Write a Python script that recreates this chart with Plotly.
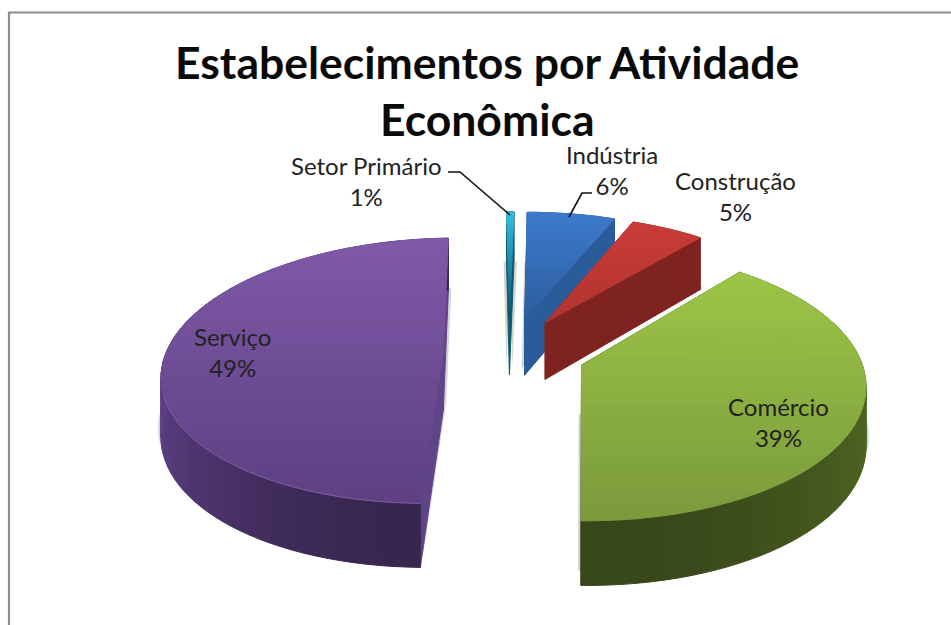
import math
import plotly.graph_objects as go

# ---- data ----
categories = ["Indústria", "Construção", "Comércio", "Serviço", "Setor Primário"]
values = [6, 5, 39, 49, 1]              # percentages printed on the labels
shares = [6.0, 5.0, 39.3, 49.2, 0.5]    # unrounded shares
title_lines = ["Estabelecimentos por Atividade", "Econômica"]

# ---- style / projection settings ----
explode = [0.27, 0.27, 0.285, 0.23, 0.27]
nudge_x = [0.01, 0.0, 0.0, 0.0, 0.008]
top_colors = [("#3d7bcc", "#2b5f9f"), ("#cb3c38", "#b03430"), ("#9dc547", "#7a9a3c"),
              ("#8059a9", "#5d4082"), ("#35c0de", "#0e5468")]
face_colors = ["#2a5c9a", "#7f2320", "#3f5019", "#5f4488", "#0f5a70"]
wall_colors = [("#2a5c9a", "#2a5c9a"), ("#7f2320", "#7f2320"), ("#38471a", "#4e6520"),
               ("#38264f", "#5c3f84"), ("#0f5a70", "#0f5a70")]
label_pos = [(612, 170), (735, 196), (778, 422), (232, 352), (366, 181)]
CX, CY, RX, RY, K, VX = 507, 352, 277, 130, 0.14, -40
W, H = 951, 625


def proj(X, Y):
    p = 1 / (1 + K * Y)
    return CX + RX * X * p + VX * (p - 1), CY - RY * Y * p


def thick(Y):
    return 58 - 6 * Y


def mix(a, b, t):
    t = max(0, min(1, t))
    ca = [int(a[i:i + 2], 16) for i in (1, 3, 5)]
    cb = [int(b[i:i + 2], 16) for i in (1, 3, 5)]
    return "rgb(%d,%d,%d)" % tuple(round(u + (v - u) * t) for u, v in zip(ca, cb))


def clip(poly, lo, hi):
    def half(pts, inside, ycut):
        out = []
        for i, a in enumerate(pts):
            b = pts[(i + 1) % len(pts)]
            if inside(a):
                out.append(a)
            if inside(a) != inside(b):
                f = (ycut - a[1]) / (b[1] - a[1])
                out.append((a[0] + f * (b[0] - a[0]), ycut))
        return out
    pts = half(poly, lambda q: q[1] >= lo, lo)
    return half(pts, lambda q: q[1] <= hi, hi) if pts else []


def fill(fig, pts, color, line=True):
    if len(pts) < 3:
        return
    fig.add_trace(go.Scatter(
        x=[q[0] for q in pts] + [pts[0][0]], y=[q[1] for q in pts] + [pts[0][1]],
        mode="lines", fill="toself", fillcolor=color,
        line=dict(color=color if line else "rgba(0,0,0,0)", width=1.0),
        hoverinfo="skip", showlegend=False))


fig = go.Figure()

# frame of the chart area
fig.add_trace(go.Scatter(x=[9, 9, W], y=[H, 12.5, 12.5], mode="lines",
                         line=dict(color="#8c8c8c", width=2.2),
                         hoverinfo="skip", showlegend=False))

# slice geometry, from the shares
total = sum(shares)
slices = []
acc = 0
for v, e, nx in zip(shares, explode, nudge_x):
    a0, a1 = 2 * math.pi * acc / total, 2 * math.pi * (acc + v) / total
    acc += v
    m = (a0 + a1) / 2
    ax, ay = e * math.sin(m) + nx, e * math.cos(m)
    n = max(4, int(v * 1.5))
    arc = [(ax + math.sin(a0 + (a1 - a0) * i / n), ay + math.cos(a0 + (a1 - a0) * i / n))
           for i in range(n + 1)]
    slices.append(dict(a0=a0, a1=a1, apex=(ax, ay), arc=arc))

# back to front: Setor Primário, Indústria, Construção, Comércio, Serviço
for idx in [4, 0, 1, 2, 3]:
    s = slices[idx]
    apex = s["apex"]
    outline = [apex] + s["arc"]
    top = [proj(*q) for q in outline]

    # soft drop shadow
    for dx in (-3, 3):
        fill(fig, [(x + dx, y + 50) for x, y in top], "rgba(60,60,60,0.22)", line=False)

    # radial faces
    for edge in (s["arc"][0], s["arc"][-1]):
        a, b = proj(*apex), proj(*edge)
        fill(fig, [a, b, (b[0], b[1] + thick(edge[1])), (a[0], a[1] + thick(apex[1]))],
             face_colors[idx])

    # outer wall as strips shaded along the arc
    for i in range(len(s["arc"]) - 1):
        p, q = s["arc"][i], s["arc"][i + 1]
        a, b = proj(*p), proj(*q)
        t = abs(math.sin(s["a0"] + (s["a1"] - s["a0"]) * (i + 0.5) / (len(s["arc"]) - 1)))
        col = mix(wall_colors[idx][0], wall_colors[idx][1], t ** 2)
        fill(fig, [a, b, (b[0], b[1] + thick(q[1])), (a[0], a[1] + thick(p[1]))], col)

    # top surface as horizontal gradient bands
    ys = [q[1] for q in top]
    ymin, ymax = min(ys), max(ys)
    bands = 26
    c0, c1 = top_colors[idx]
    for b in range(bands):
        lo = ymin + (ymax - ymin) * b / bands
        hi = ymin + (ymax - ymin) * (b + 1) / bands
        fill(fig, clip(top, lo, hi), mix(c0, c1, (b + 0.5) / bands))

    # faint light rim along the front of the large purple slice
    if idx == 3:
        rim = [q for q in top[1:] if q[1] > CY + 40]
        fig.add_trace(go.Scatter(x=[q[0] for q in rim], y=[q[1] for q in rim], mode="lines",
                                 line=dict(color="#7a5ca4", width=1),
                                 hoverinfo="skip", showlegend=False))

# leader lines
for lx, ly in [([448, 460, 510], [172, 172, 215]), ([592, 582, 569], [193, 193, 217])]:
    fig.add_trace(go.Scatter(x=lx, y=ly, mode="lines", line=dict(color="#111111", width=1.6),
                             hoverinfo="skip", showlegend=False))

# labels
for cat, val, (lx, ly) in zip(categories, values, label_pos):
    fig.add_annotation(x=lx, y=ly, text=f"{cat}<br>{val}%", showarrow=False, align="center",
                       font=dict(family="Lato", size=24, color="#222222"))

fig.add_annotation(x=487, y=61, text=title_lines[0], showarrow=False,
                   font=dict(family="Lato", size=44.5, color="#0a0a0a", weight="bold"))
fig.add_annotation(x=487, y=118, text=title_lines[1], showarrow=False,
                   font=dict(family="Lato", size=44.5, color="#0a0a0a", weight="bold"))

fig.update_layout(
    width=W, height=H, margin=dict(l=0, r=0, t=0, b=0),
    paper_bgcolor="white", plot_bgcolor="white", showlegend=False,
    xaxis=dict(range=[0, W], visible=False, fixedrange=True),
    yaxis=dict(range=[H, 0], visible=False, fixedrange=True),
)
fig.write_html("out.html", config={"displayModeBar": False},
               post_script="document.body.style.margin='0';document.body.style.overflow='hidden';")
